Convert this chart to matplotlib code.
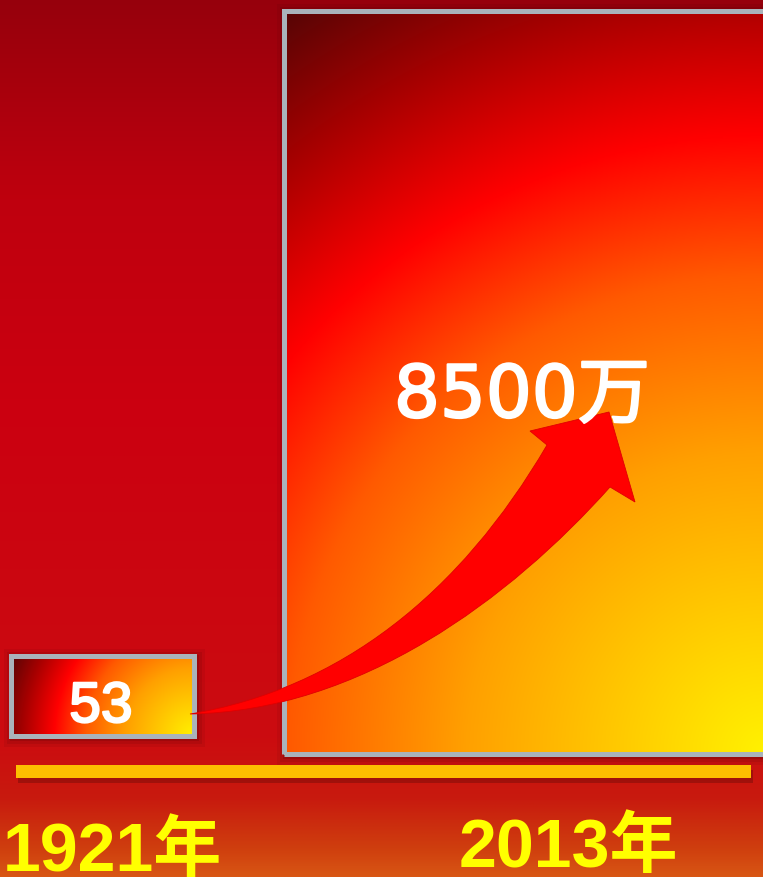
import numpy as np
import matplotlib.pyplot as plt
import matplotlib.patheffects as pe
from matplotlib.patches import Rectangle, PathPatch
from matplotlib.path import Path
from matplotlib.colors import to_rgb

# data
years = ["1921年", "2013年"]
members = [53, 85000000]
member_labels = ["53", "8500万"]

W, H = 763, 878
fig = plt.figure(figsize=(W / 100, H / 100), dpi=100)
ax = fig.add_axes([0, 0, 1, 1])


def grad(t, stops):
    # t in [0,1] -> rgb image using list of (pos, color)
    pos = [s[0] for s in stops]
    cols = np.array([to_rgb(s[1]) for s in stops])
    out = np.zeros(t.shape + (3,))
    for c in range(3):
        out[..., c] = np.interp(t, pos, cols[:, c])
    return out


# background (vertical gradient, row 0 = top of picture)
bg_stops = [(0, "#96000c"), (200 / H, "#bf000e"), (400 / H, "#cb0010"),
            (740 / H, "#cc0c10"), (800 / H, "#c81a0e"), (850 / H, "#cf3e0e"),
            (1, "#d85614")]
tt = np.linspace(0, 1, 400)[:, None] * np.ones((1, 4))
ax.imshow(grad(tt, bg_stops), extent=[0, W, 0, H], origin="upper", aspect="auto", zorder=0)

# bars, height on a compressed scale so 53 is still visible
x_pos = [102, 525]
widths = [183, 483]
bottoms = [141.5, 123.5]
heights = 743 * (np.array(members) / max(members)) ** 0.156

# soft shadows
for xc, w, b, h in zip(x_pos, widths, bottoms, heights):
    for k, a in [(9, 0.05), (6, 0.07), (3, 0.1)]:
        ax.add_patch(Rectangle((xc - w / 2 - k + 2, b - k - 2), w + 2 * k, h + 2 * k,
                               color="black", alpha=a, lw=0, zorder=1))

bars = ax.bar(x_pos, heights, width=widths, bottom=bottoms, facecolor="none",
              edgecolor="#a9b3bb", linewidth=3.6, zorder=3)

bar_stops = [(0, "#fff200"), (0.34, "#ffa000"), (0.54, "#ff5a00"),
             (0.70, "#ff0000"), (0.84, "#b00000"), (1, "#560505")]
for bar in bars:
    x0, y0 = bar.get_x(), bar.get_y()
    bw, bh = bar.get_width(), bar.get_height()
    X, Y = np.meshgrid(np.linspace(x0, x0 + bw, 300), np.linspace(y0, y0 + bh, 300))
    d = np.hypot(X - (x0 + bw), Y - y0) / np.hypot(bw, bh)
    im = ax.imshow(grad(d, bar_stops), extent=[x0, x0 + bw, y0, y0 + bh],
                   origin="lower", aspect="auto", zorder=2)
    im.set_clip_path(bar)

# gold base line
ax.add_patch(Rectangle((18, 94), 735, 13, color="black", alpha=0.2, lw=0, zorder=1))
ax.add_patch(Rectangle((16, 99), 735, 13, color="#fdbf00", lw=0, zorder=2))

# curved arrow (picture coords -> y up)
pts = [(190, 715), (340, 690), (460, 595), (547, 446), (530, 432), (609, 413),
       (635, 503), (610, 488), (510, 600), (360, 712), (190, 715), (190, 715)]
codes = [Path.MOVETO, Path.CURVE4, Path.CURVE4, Path.CURVE4, Path.LINETO, Path.LINETO,
         Path.LINETO, Path.LINETO, Path.CURVE4, Path.CURVE4, Path.CURVE4, Path.CLOSEPOLY]
arrow = Path([(x, H - y) for x, y in pts], codes)
ax.add_patch(PathPatch(arrow, facecolor="#ff0000", edgecolor="#e00000", lw=0.6, zorder=4))

# value labels (thin white outline to make them a bit heavier)
thick = [pe.withStroke(linewidth=1.6, foreground="white")]
ax.text(101, H - 723, member_labels[0], ha="center", va="baseline", color="white",
        fontsize=41, family=["Liberation Sans", "Noto Sans CJK SC"], zorder=5,
        path_effects=thick)
ax.text(522, H - 418, member_labels[1], ha="center", va="baseline", color="white",
        fontsize=52, family=["DejaVu Sans", "Noto Sans CJK SC"], zorder=5,
        path_effects=thick)

# year labels
yfam = ["Liberation Sans", "Noto Sans CJK SC"]
ax.text(3, H - 871, years[0], ha="left", va="baseline", color="#ffff00",
        fontsize=49, fontweight="bold", family=yfam, zorder=5)
ax.text(459, H - 867, years[1], ha="left", va="baseline", color="#ffff00",
        fontsize=49, fontweight="bold", family=yfam, zorder=5)

ax.set_xlim(0, W)
ax.set_ylim(0, H)
ax.axis("off")

fig.savefig("out.png", dpi=100)
